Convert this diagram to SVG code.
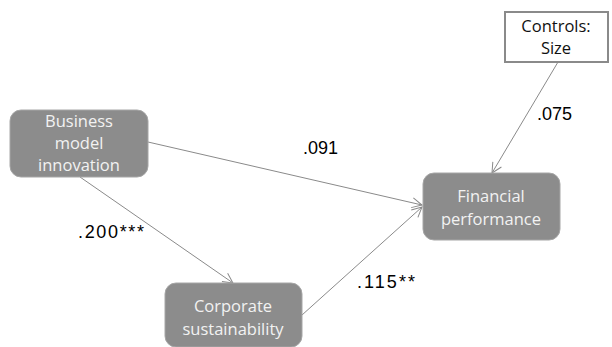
<svg xmlns="http://www.w3.org/2000/svg" width="612" height="347" viewBox="0 0 612 347">
<defs>
<marker id="arr" markerWidth="12" markerHeight="12" refX="11" refY="6" orient="auto" markerUnits="userSpaceOnUse">
<path d="M1,1 L11,6 L1,11" fill="none" stroke="#8a8a8a" stroke-width="1"/>
</marker>
<style>
.node{fill:#8c8c8c;stroke:#a6a6a6;stroke-width:1}
.nt{font-family:"Open Sans","Liberation Sans",sans-serif;font-size:16.5px;fill:#f2f2f2;text-anchor:middle}
.lbl{font-family:"Liberation Sans",sans-serif;font-size:18px;fill:#000}
.edge{stroke:#8a8a8a;stroke-width:1;fill:none;marker-end:url(#arr)}
</style>
</defs>
<rect width="612" height="347" fill="#fff"/>
<g id="connectors">
<line class="edge" x1="148" y1="142" x2="422" y2="205"/>
<line class="edge" x1="80" y1="177" x2="233" y2="283"/>
<line class="edge" x1="302" y1="315" x2="422" y2="207"/>
<line class="edge" x1="558" y1="62" x2="492" y2="173"/>
</g>
<g id="bmi">
<rect class="node" x="10" y="110" width="138" height="67" rx="11"/>
<text class="nt" x="79" y="127">Business</text>
<text class="nt" x="79" y="149">model</text>
<text class="nt" x="79" y="171">innovation</text>
</g>
<g id="fp">
<rect class="node" x="423" y="173" width="137" height="67" rx="11"/>
<text class="nt" x="491" y="202">Financial</text>
<text class="nt" x="491" y="225">performance</text>
</g>
<g id="cs">
<rect class="node" x="165" y="283" width="137" height="64" rx="11"/>
<text class="nt" x="233" y="312">Corporate</text>
<text class="nt" x="233" y="335">sustainability</text>
</g>
<g id="controls">
<rect x="505" y="12" width="103" height="50" fill="#fff" stroke="#8a8a8a" stroke-width="2"/>
<text class="nt" x="556" y="32" style="fill:#111">Controls:</text>
<text class="nt" x="556" y="54" style="fill:#111">Size</text>
</g>
<g id="labels">
<text class="lbl" x="303" y="154">.091</text>
<text class="lbl" x="537" y="120">.075</text>
<text class="lbl" x="78" y="238" textLength="66">.200***</text>
<text class="lbl" x="357" y="288" textLength="58">.115**</text>
</g>
</svg>
